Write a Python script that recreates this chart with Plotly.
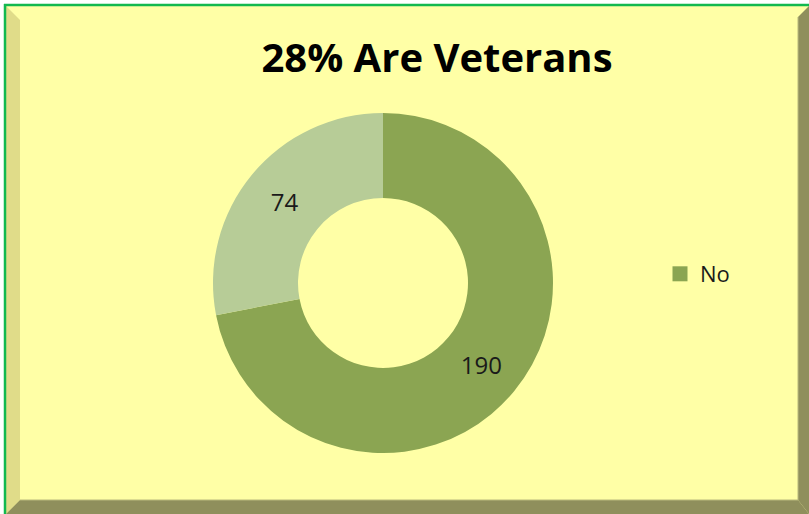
import plotly.graph_objects as go

W, H = 809, 514

labels = ["No", "Yes"]
values = [190, 74]
colors = ["#8BA552", "#B7CC97"]
title_text = "28% Are Veterans"
legend_labels = ["No"]

face = "#FFFFA6"
green = "#12B84F"
light_bevel = "#E0DC89"
dark_bevel = "#8F8F5C"


def px(x):
    return x / W


def py(y):
    return 1 - y / H


def path(points):
    return "M " + " L ".join(f"{px(x):.5f},{py(y):.5f}" for x, y in points) + " Z"


fig = go.Figure()

fig.add_trace(go.Pie(
    labels=labels,
    values=values,
    hole=0.5,
    sort=False,
    direction="clockwise",
    rotation=0,
    marker=dict(colors=colors, line=dict(width=0)),
    textinfo="value",
    textposition="inside",
    insidetextorientation="horizontal",
    textfont=dict(family="Open Sans", size=24, color="#1a1a1a"),
    showlegend=False,
    hoverinfo="label+value+percent",
    domain=dict(x=[px(213), px(553)], y=[py(453), py(113)]),
))

for lab in legend_labels:
    fig.add_trace(go.Scatter(
        x=[None], y=[None], mode="markers", name=lab,
        marker=dict(symbol="square", size=15, color=colors[labels.index(lab)]),
        showlegend=True,
    ))

shapes = [
    dict(type="rect", xref="paper", yref="paper", x0=px(6), x1=px(W), y0=py(H), y1=py(6),
         fillcolor=face, line=dict(width=0), layer="below"),
    dict(type="path", xref="paper", yref="paper",
         path=path([(6, 6), (20, 20), (20, 500), (6, 514)]),
         fillcolor=light_bevel, line=dict(width=0), layer="below"),
    dict(type="path", xref="paper", yref="paper",
         path=path([(W, 6), (798, 17), (798, 500), (W, 514)]),
         fillcolor=dark_bevel, line=dict(width=0), layer="below"),
    dict(type="path", xref="paper", yref="paper",
         path=path([(6, 514), (20, 500), (798, 500), (W, 514)]),
         fillcolor=dark_bevel, line=dict(width=0), layer="below"),
    dict(type="line", xref="paper", yref="paper", x0=px(20), x1=px(798), y0=py(500), y1=py(500),
         line=dict(color="#B9B97C", width=1), layer="below"),
    dict(type="line", xref="paper", yref="paper", x0=px(798), x1=px(798), y0=py(500), y1=py(17),
         line=dict(color="#B9B97C", width=1), layer="below"),
    dict(type="line", xref="paper", yref="paper", x0=px(5), x1=px(5), y0=py(H), y1=py(4),
         line=dict(color=green, width=2.5), layer="below"),
    dict(type="line", xref="paper", yref="paper", x0=px(4), x1=px(W), y0=py(5), y1=py(5),
         line=dict(color=green, width=2.5), layer="below"),
]

fig.update_layout(
    width=W, height=H,
    margin=dict(l=0, r=0, t=0, b=0),
    paper_bgcolor="white",
    plot_bgcolor="rgba(0,0,0,0)",
    shapes=shapes,
    title=dict(text=f"<b>{title_text}</b>", x=437 / W, xanchor="center",
               y=1 - 58 / H, yanchor="middle", yref="container",
               font=dict(family="Open Sans", size=40, color="#000000")),
    legend=dict(x=px(660), y=py(274), xanchor="left", yanchor="middle",
                bgcolor="rgba(0,0,0,0)",
                font=dict(family="Open Sans", size=22, color="#1a1a1a"),
                itemwidth=30),
    xaxis=dict(visible=False, range=[0, 1]),
    yaxis=dict(visible=False, range=[0, 1]),
)

fig.write_html("out.html", config={"displayModeBar": False},
               post_script="document.body.style.margin='0';")
